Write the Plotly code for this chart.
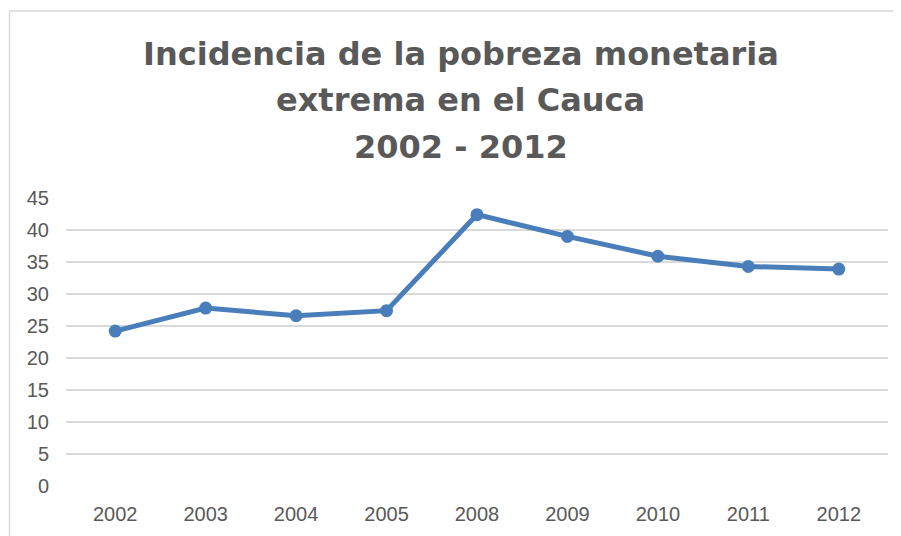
import plotly.graph_objects as go

anios = ["2002", "2003", "2004", "2005", "2008", "2009", "2010", "2011", "2012"]
incidencia = [24.2, 27.8, 26.6, 27.4, 42.4, 39.0, 35.9, 34.3, 33.9]
y_ticks = [0, 5, 10, 15, 20, 25, 30, 35, 40, 45]
titulo = ["Incidencia de la pobreza monetaria", "extrema en el Cauca", "2002 - 2012"]

GRIS = "#595959"
AZUL = "#4a7ebb"

fig = go.Figure(
    go.Scatter(
        x=anios,
        y=incidencia,
        mode="lines+markers",
        line=dict(color=AZUL, width=5),
        marker=dict(color=AZUL, size=13),
        hoverinfo="x+y",
    )
)

# titulo en tres lineas, como anotaciones para controlar el espaciado
for texto, y in zip(titulo, [1.499, 1.341, 1.177]):
    fig.add_annotation(
        text=f"<b>{texto}</b>",
        x=0.4805, y=y, xref="paper", yref="paper",
        xanchor="center", yanchor="middle",
        showarrow=False,
        font=dict(family="DejaVu Sans", size=32, color=GRIS),
    )

# marco del area del grafico
fig.add_shape(
    type="rect", xref="paper", yref="paper",
    x0=-0.0687, x1=1.2, y0=-0.4, y1=1.649,
    line=dict(color="#d9d9d9", width=1.5),
    fillcolor="rgba(0,0,0,0)", layer="below",
)

# la pagina tiene 8px de margen, asi que la figura es un poco mas chica
fig.update_layout(
    width=893,
    height=528,
    margin=dict(l=58, r=13, t=190, b=50),
    paper_bgcolor="white",
    plot_bgcolor="white",
    showlegend=False,
    font=dict(family="Liberation Sans, Arial, sans-serif", size=20, color=GRIS),
    xaxis=dict(
        type="category",
        showgrid=False,
        showline=False,
        zeroline=False,
        ticks="",
        ticklabelstandoff=14,
        tickfont=dict(size=20, color=GRIS),
    ),
    yaxis=dict(
        range=[0, 45],
        tickvals=y_ticks,
        showgrid=True,
        gridcolor="#d9d9d9",
        gridwidth=1.5,
        zeroline=False,
        showline=False,
        ticks="",
        ticklabelstandoff=16,
        tickfont=dict(size=20, color=GRIS),
    ),
)

fig.write_html("out.html")
